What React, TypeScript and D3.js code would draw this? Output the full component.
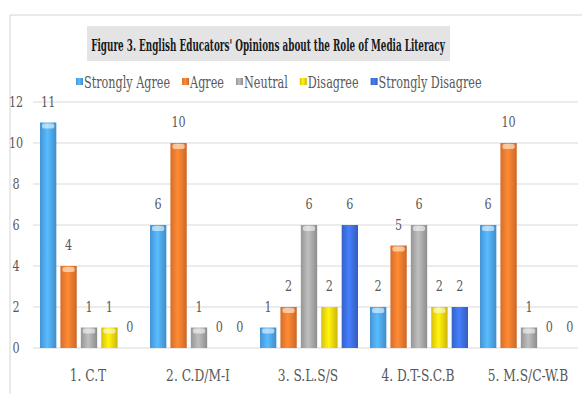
import React, { useEffect, useRef } from "react";
import * as d3 from "d3";

const categories = ["1. C.T", "2. C.D/M-I", "3. S.L.S/S", "4. D.T-S.C.B", "5. M.S/C-W.B"];
const seriesNames = ["Strongly Agree", "Agree", "Neutral", "Disagree", "Strongly Disagree"];
const stronglyAgree = [11, 6, 1, 2, 6];
const agree = [4, 10, 2, 5, 10];
const neutral = [1, 1, 6, 6, 1];
const disagree = [1, 0, 2, 2, 0];
const stronglyDisagree = [0, 0, 6, 2, 0];
const yTicks = [0, 2, 4, 6, 8, 10, 12];
const title = "Figure 3. English Educators' Opinions about the Role of Media Literacy";

const colors = ["#4ea7ef", "#f47b2e", "#a9a9a9", "#f6d80c", "#3d6fe0"];

export default function App() {
  const ref = useRef<SVGSVGElement>(null);

  useEffect(() => {
    document.body.style.margin = "0";
    const values = [stronglyAgree, agree, neutral, disagree, stronglyDisagree];
    const svg = d3.select(ref.current);
    svg.selectAll("*").remove();

    const font = "'DejaVu Serif', serif";
    const textColor = "#595959";

    // gradients for the cylinder look
    const defs = svg.append("defs");
    colors.forEach((c, i) => {
      const g = defs
        .append("linearGradient")
        .attr("id", "grad" + i)
        .attr("x1", "0%")
        .attr("x2", "100%");
      const base = d3.color(c)!;
      g.append("stop").attr("offset", "0%").attr("stop-color", base.darker(0.35).toString());
      g.append("stop").attr("offset", "45%").attr("stop-color", base.brighter(0.35).toString());
      g.append("stop").attr("offset", "100%").attr("stop-color", base.darker(0.5).toString());
    });

    // frame
    svg.append("line").attr("x1", 10).attr("x2", 582).attr("y1", 15).attr("y2", 15)
      .attr("stroke", "#d4d4d4");
    svg.append("line").attr("x1", 10).attr("x2", 10).attr("y1", 15).attr("y2", 394)
      .attr("stroke", "#d4d4d4");

    // title (squeezed to fit the grey box)
    svg.append("rect").attr("x", 87).attr("y", 26).attr("width", 363).attr("height", 35)
      .attr("fill", "#e4e4e4");
    const titleText = svg.append("text")
      .attr("text-anchor", "middle")
      .style("font-family", font).attr("font-weight", "bold").attr("font-size", 16)
      .attr("fill", "#1a1a1a")
      .text(title);
    const tw = (titleText.node() as SVGTextElement).getComputedTextLength();
    titleText.attr("transform", `translate(268,51) scale(${354 / tw},1)`);

    const x0 = d3.scaleBand().domain(categories).range([33, 583]);
    const x1 = d3.scaleBand().domain(seriesNames).range([7, 105]).paddingInner(0.2);
    const y = d3.scaleLinear().domain([0, 12]).range([348, 102]);

    // grid
    svg.append("g").selectAll("line").data(yTicks).enter().append("line")
      .attr("x1", 33).attr("x2", 578)
      .attr("y1", (d) => y(d)).attr("y2", (d) => y(d))
      .attr("stroke", "#d9d9d9");
    svg.append("g").selectAll("text").data(yTicks).enter().append("text")
      .attr("transform", (d) => `translate(16,${y(d) + 5}) scale(0.8,1)`)
      .attr("text-anchor", "middle")
      .style("font-family", font).attr("font-size", 14).attr("fill", textColor)
      .text((d) => d);

    // bars
    const groups = svg.append("g").selectAll("g").data(categories).enter().append("g")
      .attr("transform", (d) => `translate(${x0(d)},0)`);

    seriesNames.forEach((s, si) => {
      const bw = x1.bandwidth();
      groups.append("rect")
        .attr("x", x1(s)!)
        .attr("y", (_, ci) => y(values[si][ci]))
        .attr("width", bw)
        .attr("height", (_, ci) => y(0) - y(values[si][ci]))
        .attr("fill", `url(#grad${si})`);
      // top highlight
      groups.filter((_, ci) => values[si][ci] > 0).append("rect")
        .attr("x", x1(s)! + 2)
        .attr("y", (_, ci) => y(values[si][ci]) + 1)
        .attr("width", bw - 4)
        .attr("height", 5)
        .attr("rx", 2)
        .attr("fill", "#ffffff")
        .attr("opacity", 0.55);
      groups.append("text")
        .attr("transform", (_, ci) => `translate(${x1(s)! + bw / 2},${y(values[si][ci]) - 16}) scale(0.8,1)`)
        .attr("text-anchor", "middle")
        .style("font-family", font).attr("font-size", 14).attr("fill", textColor)
        .text((_, ci) => values[si][ci]);
    });

    // category labels
    svg.append("g").selectAll("text").data(categories).enter().append("text")
      .attr("transform", (d) => `translate(${x0(d)! + x0.bandwidth() / 2},381) scale(0.72,1)`)
      .attr("text-anchor", "middle")
      .style("font-family", font).attr("font-size", 17).attr("fill", textColor)
      .text((d) => d);

    // legend
    const legend = svg.append("g");
    let lx = 76;
    seriesNames.forEach((s, i) => {
      legend.append("rect")
        .attr("x", lx).attr("y", 78).attr("width", 7).attr("height", 7)
        .attr("fill", `url(#grad${i})`);
      const t = legend.append("text")
        .attr("transform", `translate(${lx + 8},88) scale(0.66,1)`)
        .style("font-family", font).attr("font-size", 17).attr("fill", textColor)
        .text(s);
      const w = (t.node() as SVGTextElement).getComputedTextLength() * 0.66;
      lx += 8 + w + 12;
    });
  }, []);

  return <svg ref={ref} width={582} height={394} style={{ display: "block", background: "#fff" }} />;
}
